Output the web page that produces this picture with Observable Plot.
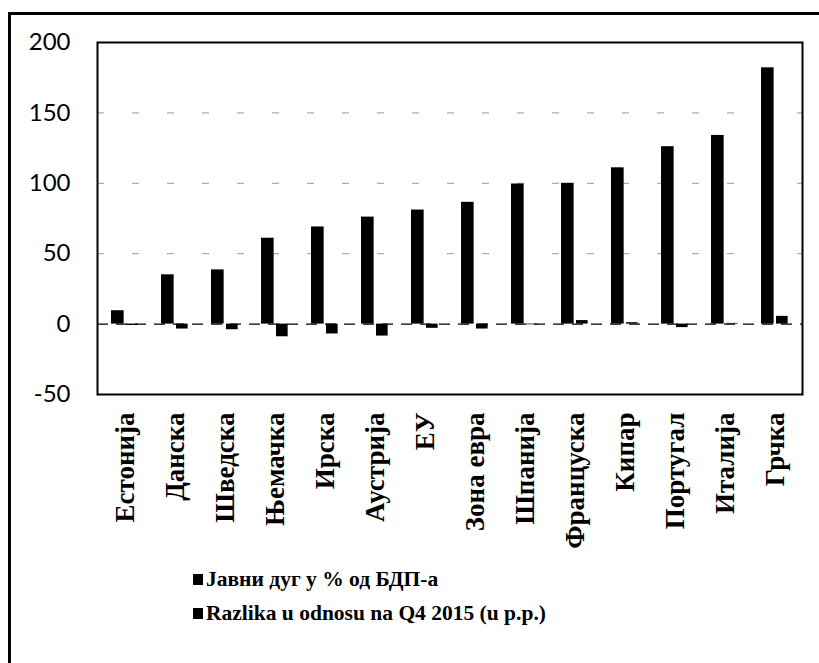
<!DOCTYPE html>
<html>
<head>
<meta charset="utf-8">
<script src="https://cdn.jsdelivr.net/npm/d3@7"></script>
<script src="https://cdn.jsdelivr.net/npm/@observablehq/plot@0.6"></script>
<style>
  html, body { margin: 0; padding: 0; background: #fff; }
  #wrap { position: relative; width: 819px; height: 663px; overflow: hidden; background: #fff; }
  #outer { position: absolute; left: 8px; top: 12px; width: 900px; height: 800px; border-left: 3px solid #000; border-top: 3px solid #000; box-sizing: border-box; pointer-events: none; }
  #chart { position: absolute; left: 0; top: 0; }
  #legend { position: absolute; left: 193px; top: 562px; font-family: "Liberation Serif", "Times New Roman", serif; font-size: 21.5px; font-weight: bold; color: #000; }
  .row { display: flex; align-items: center; height: 34px; white-space: nowrap; }
  .sw { width: 10px; height: 11px; background: #000; margin-right: 3px; }
</style>
</head>
<body>
<div id="wrap">
  <div id="outer"></div>
  <div id="chart"></div>
  <div id="legend"></div>
</div>
<script>
const countries = ["Естонија","Данска","Шведска","Њемачка","Ирска","Аустрија","ЕУ","Зона евра","Шпанија","Француска","Кипар","Португал","Италија","Грчка"];
const debt = [9.5, 35, 38.5, 61, 69, 76, 81, 86.5, 99.5, 100, 111, 126, 134, 182];
const change = [-1, -3.5, -4, -9, -7, -8.5, -3, -3.5, -0.5, 2.5, 1, -2.5, 0.5, 5.5];
const seriesNames = ["Јавни дуг у % од БДП-а", "Razlika u odnosu na Q4 2015 (u p.p.)"];
const yTicks = [-50, 0, 50, 100, 150, 200];

const rows = countries.map((c, i) => ({country: c, debt: debt[i], change: change[i]}));

const W = 819, H = 565;
const mL = 97, mR = 17, mT = 42, mB = H - 394;
const band = (W - mL - mR) / countries.length;

const chart = Plot.plot({
  width: W,
  height: H,
  marginLeft: mL,
  marginRight: mR,
  marginTop: mT,
  marginBottom: mB,
  x: {domain: countries, padding: 0, axis: null},
  y: {domain: [-50, 200], axis: null},
  marks: [
    Plot.ruleY([50, 100, 150], {stroke: "#000", strokeWidth: 1, strokeOpacity: 0.4, strokeDasharray: "7,28"}),
    Plot.ruleY([0], {stroke: "#000", strokeWidth: 1.2, strokeDasharray: "11,8"}),
    Plot.barY(rows, {x: "country", y: "debt", fill: "#000", insetLeft: 11, insetRight: band - 24}),
    Plot.barY(rows, {x: "country", y: "change", fill: "#000", insetLeft: 26, insetRight: band - 38}),
    Plot.frame({stroke: "#000", strokeWidth: 2}),
    Plot.axisY({ticks: yTicks, tickSize: 0, tickPadding: 27, fontSize: 24, fontFamily: "Lato, 'Open Sans', sans-serif", tickFormat: d => String(d), label: null}),
    Plot.axisX({tickSize: 0, tickPadding: 18, tickRotate: -90, fontSize: 27, fontWeight: "bold", fontFamily: "'Liberation Serif', 'Times New Roman', serif", label: null})
  ],
  style: {background: "transparent", color: "#000", overflow: "visible"}
});
document.getElementById("chart").appendChild(chart);

const legend = document.getElementById("legend");
seriesNames.forEach(name => {
  const r = document.createElement("div");
  r.className = "row";
  const s = document.createElement("div");
  s.className = "sw";
  const t = document.createElement("span");
  t.textContent = name;
  r.appendChild(s); r.appendChild(t);
  legend.appendChild(r);
});
</script>
</body>
</html>
